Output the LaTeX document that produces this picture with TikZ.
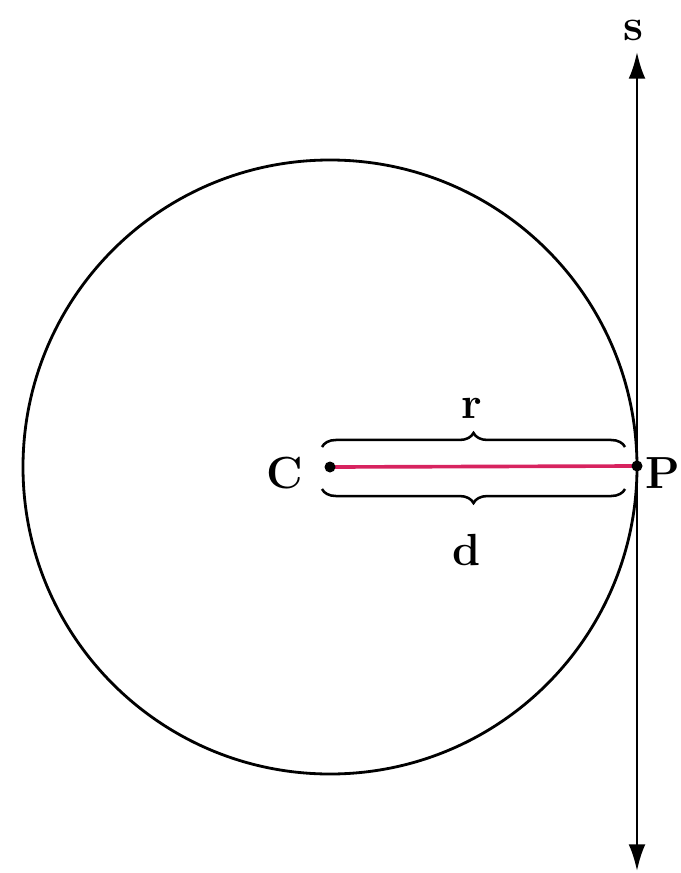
\documentclass[tikz,border=0pt]{standalone}
\usetikzlibrary{positioning,arrows.meta,decorations.pathreplacing}
\definecolor{radline}{RGB}{215,35,95}
\tikzset{>={Latex[length=19pt,width=12pt]}}

\begin{document}
\begin{tikzpicture}[x=0.025cm,y=-0.025cm,
    lbl/.style={font=\fontsize{32}{38}\selectfont\bfseries, inner sep=1pt},
    bracebar/.style={line width=1.8pt, decorate, decoration={brace, amplitude=10pt}}]
        \useasboundingbox (0,0) rectangle (680,873);
        \coordinate (C) at (330,467);
        \coordinate (P) at (637,466);
        \coordinate (sTop) at (637,52);
        \coordinate (sBot) at (637,871);
        % circle and the line s
        \draw[line width=2pt] (C) circle (307);
        \draw[<->, line width=1.8pt] (sBot) -- (sTop);
        \node[lbl] (s) at (633,30) {s};
        % radius
        \draw[radline, line width=2.6pt] (C) -- (P);
        \foreach \p in {C,P}
        {
            \fill (\p) circle (5.5);
        }
        \draw[bracebar] (322,447) -- (625,447);
        \draw[bracebar] (625,489) -- (322,489);
        \node[lbl] (r) at (472,408) {r};
        \node[lbl] (d) at (467,550) {d};
        \node[lbl] (Clbl) at (285,473) {C};
        \node[lbl] (Plbl) at (663,473) {P};
\end{tikzpicture}
\end{document}
